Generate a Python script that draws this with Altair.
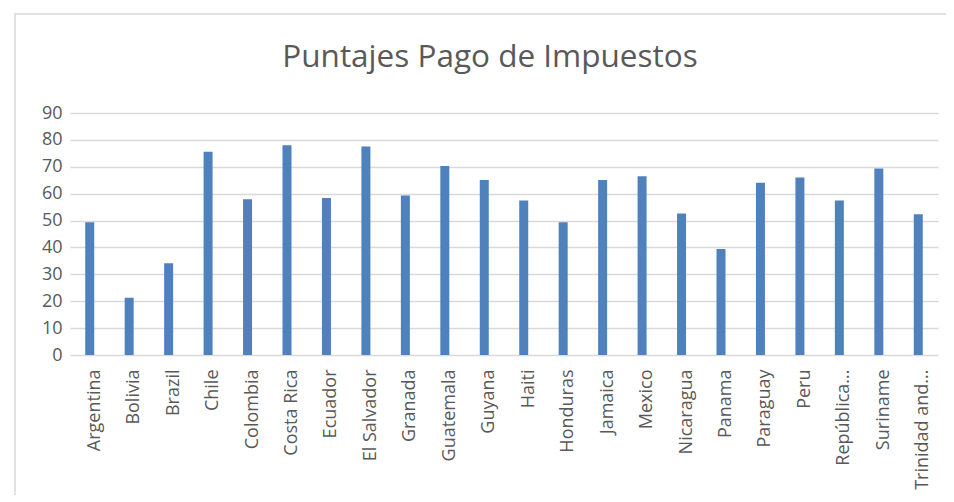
import altair as alt
import pandas as pd

countries = ["Argentina", "Bolivia", "Brazil", "Chile", "Colombia", "Costa Rica",
             "Ecuador", "El Salvador", "Granada", "Guatemala", "Guyana", "Haiti",
             "Honduras", "Jamaica", "Mexico", "Nicaragua", "Panama", "Paraguay",
             "Peru", "República...", "Suriname", "Trinidad and..."]
scores = [49.4, 21.3, 34.1, 75.6, 57.9, 78.0, 58.4, 77.5, 59.3, 70.3, 65.1, 57.5,
          49.4, 65.1, 66.5, 52.6, 39.4, 64.1, 66.0, 57.5, 69.4, 52.3]
title_text = ["Puntajes Pago de Impuestos"]

df = pd.DataFrame({"country": countries, "score": scores})

font = "Open Sans"
grey = "#595959"

border = alt.Chart(pd.DataFrame({"a": [0]})).mark_rect(
    fill=None, stroke="#D9D9D9", strokeWidth=1.5
).encode(
    x=alt.value(-55), x2=alt.value(1000), y=alt.value(-99), y2=alt.value(600)
)

title = alt.Chart(pd.DataFrame({"t": title_text})).mark_text(
    font=font, fontSize=31.5, color=grey, align="center", baseline="alphabetic"
).encode(
    text="t:N", x=alt.value(420), y=alt.value(-46)
)

bars = alt.Chart(df).mark_bar(size=9, color="#4F81BD").encode(
    x=alt.X("country:N", sort=countries, title=None,
            axis=alt.Axis(labelAngle=-90, labelAlign="right", labelBaseline="middle",
                          labelFont=font, labelFontSize=18, labelColor=grey,
                          labelPadding=14, labelOffset=5, ticks=False, domain=False,
                          labelLimit=200)),
    y=alt.Y("score:Q", title=None,
            scale=alt.Scale(domain=[0, 90]),
            axis=alt.Axis(values=list(range(0, 91, 10)), labelFont=font,
                          labelFontSize=18, labelColor=grey, labelPadding=8,
                          ticks=False, domain=False, gridColor="#D9D9D9",
                          gridWidth=1.5)),
)

chart = alt.layer(border, bars, title).properties(
    width=868, height=242,
    autosize=alt.AutoSizeParams(type="none"),
    padding={"left": 62, "top": 105, "right": 8, "bottom": 140},
).configure_view(stroke=None).configure_scale(bandPaddingInner=0.77)

chart.save("out.html", embed_options={"renderer": "svg", "actions": False})
